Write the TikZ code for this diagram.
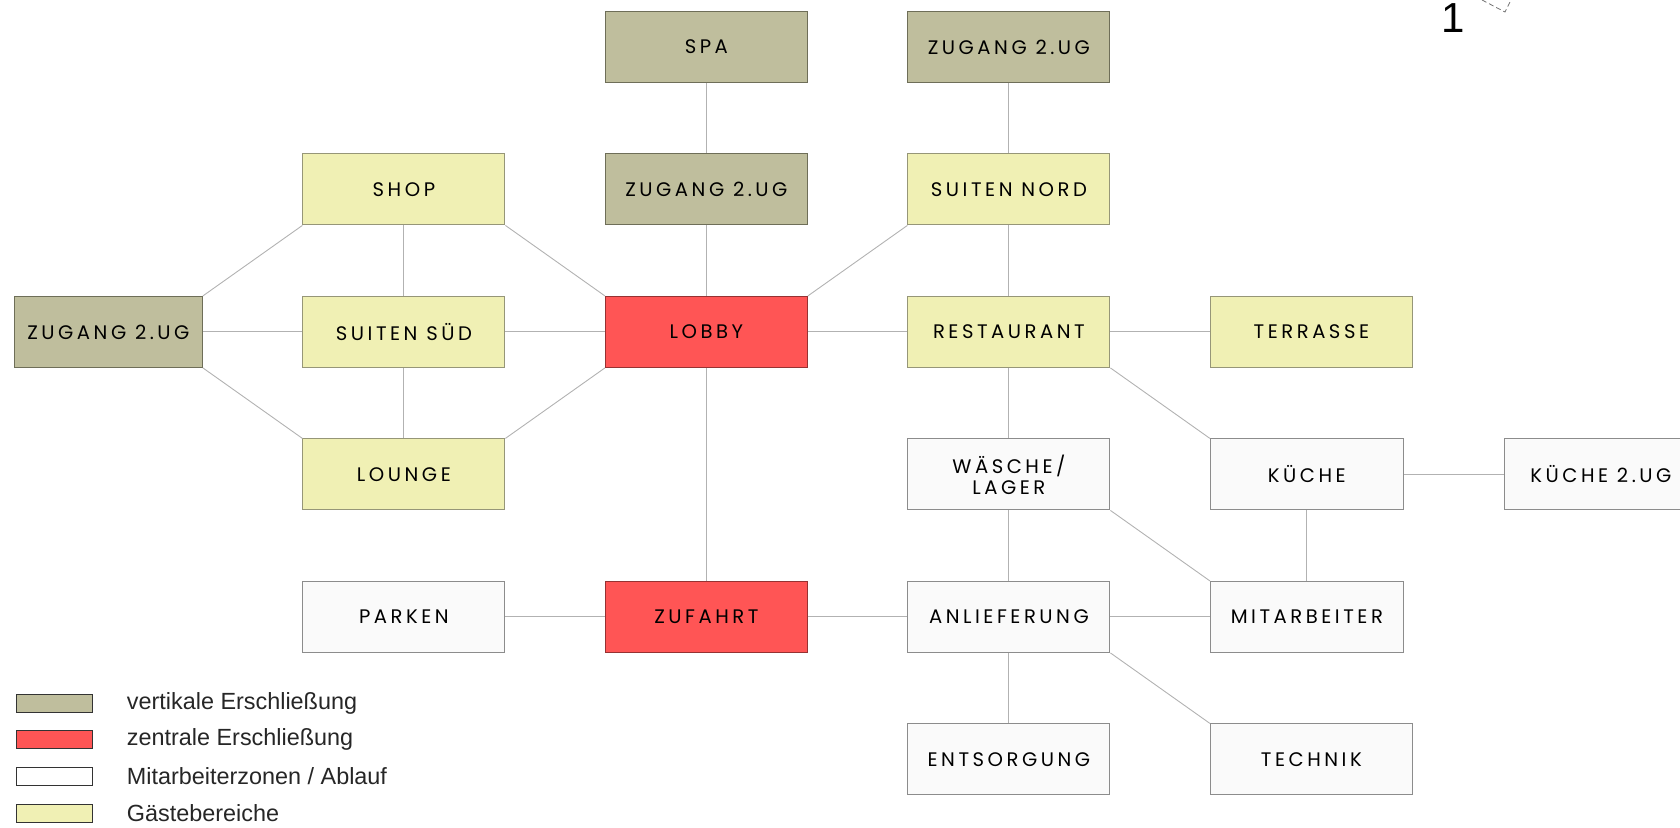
\documentclass[tikz,border=0pt]{standalone}
\usepackage{fontspec}
\setmainfont{Liberation Sans}
\newfontfamily\boxfont[LetterSpace=18]{Poppins}
\usepackage{tikz}
\usetikzlibrary{positioning,matrix}
\definecolor{vertikal}{RGB}{191,190,157}
\definecolor{vertikalrand}{RGB}{110,110,88}
\definecolor{zentral}{RGB}{255,85,85}
\definecolor{zentralrand}{RGB}{150,50,50}
\definecolor{gast}{RGB}{240,240,180}
\definecolor{gastrand}{RGB}{150,150,120}
\definecolor{team}{RGB}{250,250,250}
\definecolor{teamrand}{RGB}{140,140,140}
\tikzset{
  raum/.style={rectangle, minimum width=101pt, minimum height=35.5pt, inner sep=0pt, text centered, font=\boxfont\fontsize{9.8}{10.5}\selectfont, line width=0.5pt},
  vert/.style={raum, draw=vertikalrand, fill=vertikal},
  zentr/.style={raum, draw=zentralrand, fill=zentral},
  gastb/.style={raum, draw=gastrand, fill=gast},
  mitarb/.style={raum, draw=teamrand, fill=team},
  legbox/.style={rectangle, minimum width=38pt, minimum height=9pt, inner sep=0pt, draw=black!80, line width=0.5pt},
  legtext/.style={inner sep=0pt, font=\fontsize{11.7}{13}\selectfont, text=black!85},
  line/.style={draw=black!30, line width=0.45pt},
}
\begin{document}
\begin{tikzpicture}
    \clip (0,0) rectangle (840pt,-413.5pt);

    \matrix (plan) [row sep=35.25pt, column sep=49.75pt, inner sep=0pt, nodes={anchor=center}, anchor=north west] at (6.75pt,-5.25pt) {
      & & \node[vert] (spa) {SPA}; & \node[vert] (zugn) {ZUGANG 2.UG}; \\
      & \node[gastb] (shop) {SHOP}; & \node[vert] (zugm) {ZUGANG 2.UG}; & \node[gastb] (suitn) {SUITEN NORD}; \\
      \node[vert, minimum width=94pt] (zugw) {ZUGANG 2.UG}; & \node[gastb] (suits) {SUITEN SÜD}; & \node[zentr] (lobby) {LOBBY}; & \node[gastb] (rest) {RESTAURANT}; & \node[gastb, anchor=west] (terr) {TERRASSE}; \\
      & \node[gastb] (lounge) {LOUNGE}; & & \node[mitarb, align=center] (waesche) {WÄSCHE/\\LAGER}; & \node[mitarb, anchor=west, minimum width=96.5pt] (kueche) {KÜCHE}; \\
      & \node[mitarb] (parken) {PARKEN}; & \node[zentr] (zufahrt) {ZUFAHRT}; & \node[mitarb] (anlief) {ANLIEFERUNG}; & \node[mitarb, anchor=west, minimum width=96.5pt] (mitarbeiter) {MITARBEITER}; \\
      & & & \node[mitarb] (entsorg) {ENTSORGUNG}; & \node[mitarb, anchor=west] (technik) {TECHNIK}; \\
    };
    \node[mitarb, minimum width=96.5pt, right=50pt of kueche] (kueche2) {KÜCHE 2.UG};

    % legend
    \node[legbox, fill=vertikal] (leg1) at (27pt,-351.5pt) {};
    \node[legbox, fill=zentral, below=8.9pt of leg1] (leg2) {};
    \node[legbox, fill=white, below=8.9pt of leg2] (leg3) {};
    \node[legbox, fill=gast, below=8.9pt of leg3] (leg4) {};
    \node[legtext, right=17pt of leg1] (legt1) {vertikale Erschließung};
    \node[legtext, right=17pt of leg2] (legt2) {zentrale Erschließung};
    \node[legtext, right=17pt of leg3] (legt3) {Mitarbeiterzonen / Ablauf};
    \node[legtext, right=17pt of leg4] (legt4) {Gästebereiche};

    \node[inner sep=0pt, font=\fontsize{21}{21}\selectfont] (nr) at (726.5pt,-9pt) {1};
    \coordinate (pfa) at (741pt,0pt);
    \coordinate (pfb) at (752.5pt,-6pt);
    \coordinate (pfc) at (755.5pt,0pt);
    \draw[black!55, line width=0.4pt, dash pattern=on 2.5pt off 1.5pt] (pfa) -- (pfb) -- (pfc);

    \begin{scope} [every path/.style=line]
      \path (spa) -- (zugm);
      \path (zugm) -- (lobby);
      \path (zugn) -- (suitn);
      \path (suitn) -- (rest);
      \path (lobby.north east) -- (suitn.south west);
      \path (zugw.north east) -- (shop.south west);
      \path (shop.south east) -- (lobby.north west);
      \path (shop) -- (suits);
      \path (zugw) -- (suits);
      \path (suits) -- (lobby);
      \path (suits) -- (lounge);
      \path (zugw.south east) -- (lounge.north west);
      \path (lounge.north east) -- (lobby.south west);
      \path (lobby) -- (rest);
      \path (rest) -- (terr);
      \path (rest) -- (waesche);
      \path (rest.south east) -- (kueche.north west);
      \path (kueche) -- (kueche2);
      \path (kueche) -- (mitarbeiter);
      \path (waesche.south east) -- (mitarbeiter.north west);
      \path (waesche) -- (anlief);
      \path (lobby) -- (zufahrt);
      \path (parken) -- (zufahrt);
      \path (zufahrt) -- (anlief);
      \path (anlief) -- (mitarbeiter);
      \path (anlief) -- (entsorg);
      \path (anlief.south east) -- (technik.north west);
    \end{scope}
  \end{tikzpicture}
\end{document}
